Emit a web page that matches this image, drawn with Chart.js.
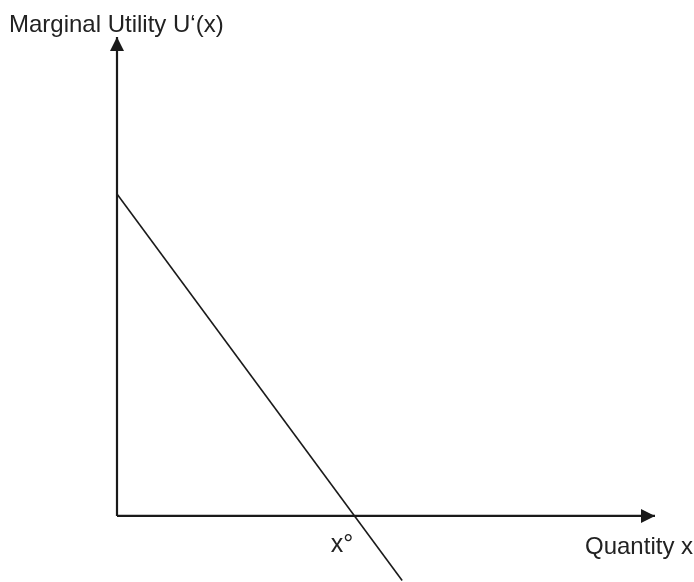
<!DOCTYPE html>
<html>
<head>
<meta charset="utf-8">
<script src="https://cdn.jsdelivr.net/npm/chart.js@4/dist/chart.umd.min.js"></script>
<style>
  html, body { margin: 0; padding: 0; background: #fff; }
  #wrap { width: 694px; height: 582px; position: relative; }
</style>
</head>
<body>
<div id="wrap"><canvas id="chart"></canvas></div>
<script>
// labels
const yTitle = 'Marginal Utility U\u2018(x)';
const xTitle = 'Quantity x';
const crossLabel = 'x\u00b0';

// marginal utility line (x, U'(x)) - runs below the axis at the end
const muX = [0, 5.3];
const muY = [6.72, -1.35];

// the two axes, ending in arrows
const xAxisX = [0, 10];
const xAxisY = [0, 0];
const yAxisX = [0, 0];
const yAxisY = [0, 10];

// where U'(x) hits zero
const xZero = 4.42;

const ink = '#1a1a1a';
const fam = '"Liberation Sans", Arial, sans-serif';

function toPoints(xs, ys) {
    return xs.map((v, i) => ({ x: v, y: ys[i] }));
}

const decor = {
    id: 'decor',
    afterDatasetsDraw(chart) {
        const ctx = chart.ctx;
        const sx = chart.scales.x, sy = chart.scales.y;
        ctx.save();
        ctx.fillStyle = ink;
        // arrow on x axis
        let px = sx.getPixelForValue(xAxisX[1]), py = sy.getPixelForValue(0);
        ctx.beginPath();
        ctx.moveTo(px, py);
        ctx.lineTo(px - 14, py - 7);
        ctx.lineTo(px - 14, py + 7);
        ctx.closePath();
        ctx.fill();
        // arrow on y axis
        px = sx.getPixelForValue(0); py = sy.getPixelForValue(yAxisY[1]);
        ctx.beginPath();
        ctx.moveTo(px, py);
        ctx.lineTo(px - 7, py + 14);
        ctx.lineTo(px + 7, py + 14);
        ctx.closePath();
        ctx.fill();

        ctx.textBaseline = 'alphabetic';
        ctx.textAlign = 'left';
        ctx.fillStyle = '#222';
        ctx.font = '24px ' + fam;
        ctx.fillText(yTitle, 9, 32);
        ctx.fillText(xTitle, 585, sy.getPixelForValue(0) + 38);
        ctx.font = '25px ' + fam;
        ctx.fillText(crossLabel, sx.getPixelForValue(xZero) - 24, sy.getPixelForValue(0) + 36);
        ctx.restore();
    }
};

const line = (data, w) => ({
    data: data,
    borderColor: ink,
    borderWidth: w,
    pointRadius: 0,
    showLine: true,
    fill: false,
    clip: false
});

new Chart(document.getElementById('chart'), {
    type: 'scatter',
    data: {
        datasets: [
            line(toPoints(xAxisX, xAxisY), 2.2),
            line(toPoints(yAxisX, yAxisY), 2.2),
            line(toPoints(muX, muY), 1.6)
        ]
    },
    options: {
        responsive: true,
        maintainAspectRatio: false,
        animation: false,
        layout: { padding: { left: 117, right: 39, top: 37, bottom: 0 } },
        plugins: { legend: { display: false }, tooltip: { enabled: false } },
        scales: {
            x: { type: 'linear', display: false, min: 0, max: 10 },
            y: { type: 'linear', display: false, min: -1.38, max: 10 }
        }
    },
    plugins: [decor]
});
</script>
</body>
</html>
